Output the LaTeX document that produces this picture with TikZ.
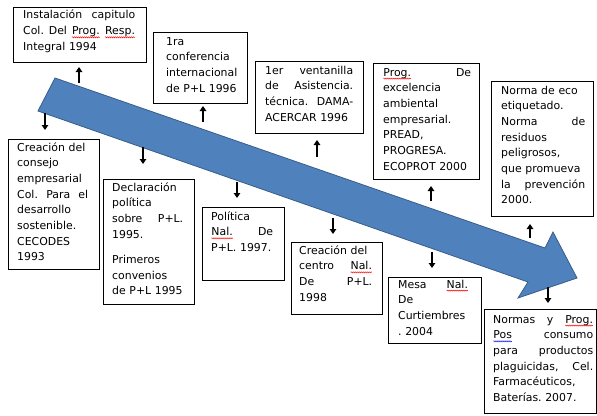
\documentclass[tikz,border=0pt]{standalone}
\usepackage{fontspec}
\setmainfont{DejaVu Sans}
\usetikzlibrary{arrows.meta,decorations.pathmorphing}
\definecolor{arrfill}{HTML}{4F81BD}
\definecolor{arrline}{HTML}{385D8A}
\newcommand\sqw[2]{\tikz[baseline=(w.base),x=1pt,y=1pt]{\node[inner sep=0pt,outer sep=0pt,anchor=base west] (w) at (0,0) {#2};\draw[#1,line width=0.45pt,decorate,decoration={zigzag,segment length=2pt,amplitude=0.6pt}] ([yshift=-2.6pt]w.base west) -- ([yshift=-2.6pt]w.base east);}}
\newcommand\sqr[1]{\sqw{red}{#1}}
\newcommand\sqb[1]{\sqw{blue}{#1}}
\newcommand\hf{\nobreak\hfill}
\tikzset{
  box/.style={draw=black, line width=0.9pt, fill=white, anchor=north west, inner sep=0pt},
  txt/.style={anchor=base west, inner sep=0pt, align=left, font=\fontsize{10.9}{15.7}\selectfont},
  sarr/.style={line width=1.6pt, -{Triangle[length=5pt,width=6.5pt]}},
  bigarrow/.style={fill=arrfill, draw=arrline, line width=0.8pt, line join=miter}
}
\begin{document}
\begin{tikzpicture}[x=1pt,y=-1pt]
\useasboundingbox (0,0) rectangle (597,415);
% big arrow
\draw[bigarrow] (55,78) -- (545,248) -- (553,232) -- (577,278) -- (518,298) -- (528,282) -- (38,111) -- cycle;
% boxes
\node[box, minimum width=133pt, minimum height=55pt] (b1) at (13,7) {};
\node[box, minimum width=94pt, minimum height=71pt] (b2) at (153,32) {};
\node[box, minimum width=108pt, minimum height=72pt] (b3) at (255,61) {};
\node[box, minimum width=106pt, minimum height=116pt] (b4) at (373,63) {};
\node[box, minimum width=102pt, minimum height=135pt] (b5) at (491,81) {};
\node[box, minimum width=91pt, minimum height=130pt] (b6) at (8,139) {};
\node[box, minimum width=91pt, minimum height=125pt] (b7) at (103,179) {};
\node[box, minimum width=82pt, minimum height=73pt] (b8) at (202,207) {};
\node[box, minimum width=91pt, minimum height=72pt] (b9) at (291,242) {};
\node[box, minimum width=93pt, minimum height=66pt] (b10) at (388,277) {};
\node[box, minimum width=112pt, minimum height=104pt] (b11) at (484,309) {};
% texts
\node[txt, text width=112pt] (t1) at (23,19) {Instalación\hf capitulo\\Col.\hf Del\hf \sqr{Prog.}\hf \sqr{Resp.}\\Integral~1994};
\node[txt, text width=82pt] (t2) at (166,45) {1ra\\conferencia\\internacional\\de~P+L~1996};
\node[txt, text width=88pt] (t3) at (265,74) {1er\hf ventanilla\\de\hf Asistencia.\\técnica.\hf DAMA-\\ACERCAR~1996};
\node[txt, text width=88pt] (t4) at (383,76) {\sqr{Prog.}\hf De\\excelencia\\ambiental\\empresarial.\\PREAD,\\PROGRESA.\\ECOPROT~2000};
\node[txt, text width=84pt] (t5) at (501,94) {Norma~de~eco\\etiquetado.\\Norma\hf de\\residuos\\peligrosos,\\que~promueva\\la\hf prevención\\2000.};
\node[txt, text width=71pt] (t6) at (17,151) {Creación~del\\consejo\\empresarial\\Col.\hf Para\hf el\\desarrollo\\sostenible.\\CECODES\\1993};
\node[txt, text width=71pt] (t7) at (112,191) {Declaración\\política\\sobre\hf P+L.\\1995.\\[9.5pt]Primeros\\convenios\\de~P+L~1995};
\node[txt, text width=62pt] (t8) at (211,220) {Política\\\sqr{Nal.}\hf De\\P+L.~1997.};
\node[txt, text width=73pt] (t9) at (299,254) {Creación~del\\centro\hf \sqr{Nal.}\\De\hf P+L.\\1998};
\node[txt, text width=70pt] (t10) at (398,288) {Mesa\hf \sqr{Nal.}\\De\\Curtiembres\\.~2004};
\node[txt, text width=100pt] (t11) at (493,323) {Normas\hf y\hf \sqr{Prog.}\\\sqb{Pos}\hf consumo\\para\hf productos\\plaguicidas,\hf Cel.\\Farmacéuticos,\\Baterías.~2007.};
% small arrows
\coordinate (a1s) at (79,83);   \coordinate (a1e) at (79,67);
\coordinate (a2s) at (45,113);  \coordinate (a2e) at (45,130);
\coordinate (a3s) at (203,122); \coordinate (a3e) at (203,106);
\coordinate (a4s) at (143,147); \coordinate (a4e) at (143,164);
\coordinate (a5s) at (237,182); \coordinate (a5e) at (237,198);
\coordinate (a6s) at (317,157); \coordinate (a6e) at (317,140);
\coordinate (a7s) at (333,218); \coordinate (a7e) at (333,234);
\coordinate (a8s) at (431,201); \coordinate (a8e) at (431,186);
\coordinate (a9s) at (432,252); \coordinate (a9e) at (432,268);
\coordinate (a10s) at (530,238); \coordinate (a10e) at (530,224);
\coordinate (a11s) at (548,287); \coordinate (a11e) at (548,303);
\foreach \i in {1,...,11} {\draw[sarr] (a\i s) -- (a\i e);}
\end{tikzpicture}
\end{document}
